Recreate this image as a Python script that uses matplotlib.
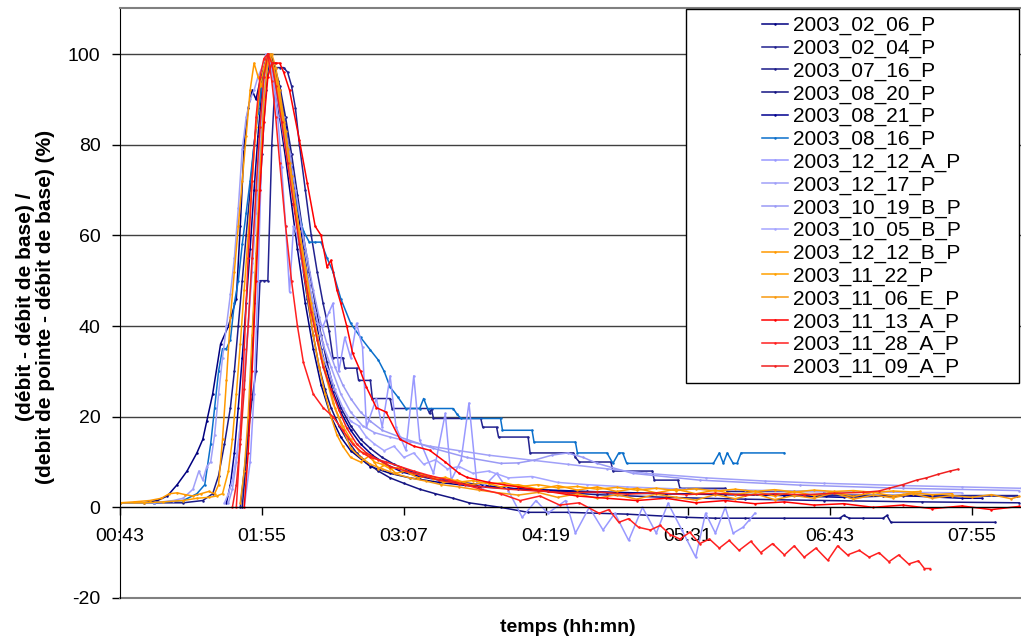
import matplotlib
matplotlib.use("Agg")
import matplotlib.pyplot as plt
from matplotlib.patches import Rectangle

plt.rcParams['font.family'] = ['Liberation Sans', 'DejaVu Sans']
plt.rcParams['axes.unicode_minus'] = False

# time axis labels (hh:mm); series times are in minutes
tick_labels = ["00:43", "01:55", "03:07", "04:19", "05:31", "06:43", "07:55"]

labels = ["2003_02_06_P", "2003_02_04_P", "2003_07_16_P", "2003_08_20_P",
          "2003_08_21_P", "2003_08_16_P", "2003_12_12_A_P", "2003_12_17_P",
          "2003_10_19_B_P", "2003_10_05_B_P", "2003_12_12_B_P", "2003_11_22_P",
          "2003_11_06_E_P", "2003_11_13_A_P", "2003_11_28_A_P", "2003_11_09_A_P"]

colors = ["#000080", "#22228F", "#1A1A88", "#141482", "#000090", "#0A6FCB",
          "#9999FF", "#A0A0F8", "#9A9AF5", "#A5A5FF",
          "#FF9900", "#FFA000", "#F89A10",
          "#FF0000", "#FF2020", "#F02020"]

t_0206 = [43, 55, 62, 67, 72, 77, 82, 85, 87, 90, 94, 98, 102, 104, 106, 108, 110, 112, 114, 116,
          118, 120, 122, 124, 127, 130, 133, 137, 141, 145, 150, 155, 160, 170, 180, 190, 205, 225,
          250, 280, 320, 370, 430, 498]
v_0206 = [1, 1, 1.5, 2.5, 5, 8, 12, 15, 19, 25, 36, 40, 46, 62, 80, 88, 92, 90, 94, 97,
          100, 97, 92, 86, 77, 67, 57, 45, 35, 27, 20, 15.5, 12.5, 9, 7.5, 6.5, 5.5, 4.5,
          4, 3.5, 3, 2.8, 2.6, 2.5]

t_0204 = [104, 106, 108, 110, 112, 114, 116, 118, 120, 122, 124, 126, 128, 130, 132, 134, 137, 140,
          143, 146, 149, 151, 156, 157, 163, 164, 170, 171, 180, 181, 199, 200, 201, 202, 226, 227,
          234, 235, 250, 251, 273, 274, 276, 292, 293, 313, 314, 326, 327, 350, 351, 400, 401, 498]
v_0204 = [0, 8, 16, 24, 30, 50, 50, 50, 80, 97, 97, 97, 96, 93, 88, 80, 70, 60,
          52, 45, 39, 33, 33, 30.7, 30.7, 28, 28, 24, 24, 21.8, 21.8, 20.7, 21.8, 19.6, 19.6, 17.7,
          17.7, 15.5, 15.5, 12, 12, 11, 10, 10, 8, 8, 6, 6, 4.2, 4.2, 3.5, 3.5, 2.6, 2.6]

t_0716 = [43, 60, 75, 85, 90, 93, 96, 99, 101, 103, 105, 107, 109, 111, 113, 115, 117, 119, 121, 124,
          127, 130, 133, 136, 139, 142, 145, 148, 151, 155, 160, 165, 170, 176, 182, 190, 200, 212,
          225, 240, 260, 285, 320, 360, 400, 450, 499]
v_0716 = [1, 1, 1, 1.5, 3, 7, 14, 22, 30, 40, 50, 60, 70, 80, 88, 94, 99, 100, 98, 93,
          86, 78, 69, 60, 52, 45, 38, 32, 27, 22, 18, 15, 13, 11, 9.5, 8, 6.8, 5.8,
          5, 4.2, 3.5, 2.8, 2.2, 1.8, 1.5, 1.2, 1]

t_0820 = [105, 107, 109, 111, 113, 115, 117, 119, 121, 123, 126, 129, 132, 135, 138, 141, 144, 147,
          150, 154, 158, 163, 168, 174, 180, 187, 195, 203, 212, 220, 228, 236, 250, 270, 300, 330,
          345, 360, 380, 408, 410, 413, 420, 430, 432, 434, 487]
v_0820 = [0, 10, 25, 45, 62, 78, 92, 100, 98, 94, 86, 76, 65, 55, 46, 38, 31, 26,
          22, 18, 15, 12, 10, 8, 6.5, 5.3, 4, 3, 2, 1, 0.5, 0, -1.1, -1.1, -1.5, -2.2,
          -2.4, -2.4, -2.4, -2.4, -1.8, -2.4, -2.4, -2.4, -1.8, -3.3, -3.3]

t_0821 = [97, 99, 101, 103, 105, 107, 109, 111, 113, 115, 117, 119, 121, 124, 127, 130, 133, 136,
          139, 142, 145, 148, 151, 155, 160, 165, 171, 178, 186, 195, 205, 216, 230, 245, 265, 290,
          320, 350, 380, 410, 440, 470, 480]
v_0821 = [1, 5, 12, 22, 33, 45, 57, 70, 82, 92, 98, 100, 98, 92, 84, 75, 66, 57,
          49, 42, 35, 30, 25.5, 21, 17, 14, 11.5, 9.5, 7.8, 6.8, 6, 5.3, 4.6, 4, 3.6, 3.2,
          3, 2.8, 2.6, 2.2, 2.6, 2, 2]

t_0816 = [43, 60, 75, 82, 86, 89, 91, 93, 95, 97, 99, 101, 103, 105, 107, 109, 111, 113, 115, 117,
          119, 121, 124, 127, 130, 133, 136, 139, 142, 145, 148, 151, 155, 160, 165, 170, 174, 177,
          180, 184, 188, 195, 197, 199, 212, 214, 216, 236, 237, 252, 253, 274, 275, 290, 293, 296,
          298, 300, 344, 347, 349, 351, 354, 356, 358, 380]
v_0816 = [1, 1, 1.5, 3, 5, 14, 22, 30, 35, 35, 37, 45, 50, 58, 65, 72, 80, 87, 93, 97,
          100, 96, 88, 80, 72, 66, 61, 58.5, 58.5, 58.5, 55, 52, 46, 40.6, 37.5, 34.7, 32.5, 30,
          26.5, 24.3, 21.8, 21.8, 24, 21.8, 21.8, 20.5, 19.6, 19.6, 17, 17, 14.4, 14.4, 12, 12, 9.7, 12,
          12, 9.7, 9.7, 12, 9.7, 12, 9.7, 9.7, 12, 12]

t_1212a = [106, 109, 111, 113, 115, 117, 119, 121, 123, 125, 127, 129, 131, 133, 136, 139, 141, 146,
           149, 151, 154, 157, 160, 163, 166, 168, 173, 176, 180, 183, 188, 192, 195, 202, 208, 211,
           216, 220, 224, 227, 234, 240, 247, 254, 260, 269, 274, 281, 288, 294, 301, 308, 315, 321,
           328, 335, 340, 345, 350, 354, 359, 362, 365]
v_1212a = [0, 10, 25, 50, 80, 95, 100, 93, 86, 75, 62, 47.5, 62, 60, 52, 50, 41, 40,
           43, 45, 30, 37.5, 33, 40.6, 35.3, 17.7, 24, 17.7, 29, 17.7, 12.6, 29, 14.8, 7.5, 20.7, 6,
           10.4, 23, 5.3, 4.4, 7.5, 3.7, -2.2, 1.5, -1.3, 1.5, -5.7, 0, -5, -1.3, -7.3, 0, -5.7, 0.9,
           -5, -11, -1.3, -5.7, 0, -5.7, -4.4, -2.9, -1.3]

t_1217 = [43, 60, 70, 75, 80, 83, 85, 87, 89, 91, 93, 95, 97, 99, 101, 103, 105, 107, 109, 111,
          113, 115, 117, 119, 121, 124, 127, 130, 134, 138, 142, 146, 150, 155, 160, 166, 172, 180,
          190, 200, 215, 230, 250, 270, 290, 310, 340, 370, 400, 440, 470, 500]
v_1217 = [1, 1, 1.5, 2, 4, 8, 6, 9, 10, 16, 25, 33, 40, 47, 55, 66, 79, 86, 90, 92,
          95, 97, 100, 98, 94, 87, 79, 71, 61, 51, 43, 36, 31, 25, 21, 18, 16.5, 15.5,
          14.5, 13.5, 12.5, 11.5, 10.5, 9.5, 8.5, 7.5, 6.5, 5.8, 5.3, 4.8, 4.5, 4.2]

t_1019b = [98, 100, 102, 104, 106, 108, 110, 112, 114, 116, 118, 120, 123, 126, 129, 132, 135, 138,
           141, 144, 148, 152, 156, 160, 165, 170, 176, 185, 202, 219, 236, 245, 253, 262, 270, 278,
           285, 303, 337, 388, 440, 499]
v_1019b = [1, 4, 10, 18, 28, 40, 52, 65, 78, 90, 100, 98, 93, 86, 78, 70, 62, 55,
           48, 42, 36, 31, 27, 24, 21, 19, 17, 15.5, 13, 11, 9.7, 9.8, 10.4, 11.5, 12, 11,
           9.7, 7.5, 6, 4.9, 4.2, 3.7]

t_1005b = [96, 98, 100, 102, 104, 106, 108, 110, 112, 114, 116, 118, 120, 122, 125, 128, 131, 134,
           137, 140, 143, 146, 149, 152, 156, 160, 164, 168, 172, 177, 182, 187, 192, 197, 203, 209,
           215, 222, 230, 240, 252, 265, 280, 300, 330, 360, 400, 440, 470]
v_1005b = [1, 3, 6, 11, 18, 28, 40, 54, 68, 82, 94, 100, 98, 94, 86, 77, 68, 60,
           52, 46, 38, 33, 30, 26, 22, 19, 18, 15.5, 14, 12.5, 13.5, 11, 12, 9.5, 10.5, 8.5,
           9, 7.5, 8, 6.5, 6.8, 5.5, 5, 4.5, 4, 3.8, 3.5, 3.3, 3.2]

t_1212b = [43, 50, 58, 64, 68, 72, 76, 80, 84, 88, 91, 93, 95, 97, 99, 101, 103, 105, 107, 109,
           111, 113, 115, 117, 119, 121, 123, 126, 129, 132, 135, 138, 141, 144, 147, 150, 153, 156,
           160, 165, 170, 174, 178, 183, 188, 194, 200, 207, 214, 221, 228, 236, 245, 255, 265, 275,
           285, 295, 305, 315, 325, 335, 345, 355, 365, 375, 385, 395, 405, 415, 425, 435, 445, 455,
           465]
v_1212b = [1, 1.2, 1.5, 2, 3, 3.2, 2.8, 2.5, 3, 3.5, 3, 5, 15, 28, 42, 52, 62, 72, 82, 92,
           98, 95, 93, 97, 100, 97, 93, 85, 76, 66, 56, 47, 38, 31, 25, 20, 16, 13.5,
           11, 10, 11.5, 8.5, 9.5, 7.5, 8, 6.5, 7, 5.5, 6, 5, 5.5, 4.5, 5, 4, 4.8, 3.8,
           4.5, 3.5, 4.2, 3.2, 4, 3, 3.8, 2.8, 3.5, 2.5, 3.5, 2.6, 3.4, 2.4, 3.3, 2.5, 3.2, 2.8,
           3]

t_1122 = [43, 55, 65, 75, 82, 88, 92, 95, 98, 100, 102, 104, 106, 108, 110, 112, 114, 116, 118, 120,
          122, 125, 128, 131, 134, 137, 140, 143, 146, 149, 152, 156, 160, 164, 168, 172, 176, 180,
          185, 190, 196, 202, 208, 215, 222, 230, 238, 246, 255, 265, 275, 285, 295, 305, 315, 325,
          335, 345, 355, 365, 375, 385, 395, 405, 415, 425, 435, 445, 449]
v_1122 = [1, 1, 1.2, 1.5, 2, 2.2, 2.5, 3, 8, 15, 25, 36, 48, 60, 72, 84, 93, 97, 100, 98,
          94, 87, 79, 70, 61, 53, 45, 38, 32, 27, 22, 18, 15, 12.5, 11.8, 10, 9.5, 8.5,
          8.8, 7.5, 7.2, 6.3, 6.6, 5.6, 5.9, 5.2, 5.4, 4.6, 5, 4.3, 4.6, 4, 4.4, 3.8, 4.2, 3.7,
          4.1, 3.6, 4, 3.5, 3.9, 3.4, 3.8, 3.5, 3.7, 3.3, 3.6, 3.4, 3.5]

t_1106e = [104, 106, 108, 110, 112, 114, 116, 118, 120, 122, 124, 127, 130, 133, 136, 139, 142, 145,
           148, 151, 155, 160, 165, 170, 176, 182, 190, 198, 206, 215, 225, 235, 245, 255, 265, 275,
           285, 295, 305, 315, 325, 335, 345, 355, 365, 375, 385, 395, 405, 415, 425, 435, 445, 455,
           465, 475, 485, 495, 499]
v_1106e = [1, 8, 20, 38, 56, 74, 90, 98, 100, 97, 92, 83, 73, 63, 54, 46, 39, 33,
           28, 23, 18.5, 13, 11, 9.5, 8.5, 7.5, 6.5, 5.8, 5, 4.5, 3.8, 3.2, 2.7, 3.3, 2.2, 3,
           2, 2.8, 1.8, 2.9, 2.2, 1.6, 2.8, 1.9, 3, 1.7, 2.6, 2, 3.2, 1.8, 2.7, 2.1, 3, 2,
           2.6, 2.2, 2.8, 1.9, 2.4]

t_1113a = [106, 108, 110, 112, 114, 116, 118, 120, 122, 124, 126, 129, 134, 138, 142, 145, 148, 150,
           153, 155, 158, 161, 165, 168, 173, 178, 185, 192, 200, 208, 215, 219, 230, 245, 260, 275,
           290, 305, 320, 335, 350, 365, 380, 395, 410, 425, 440, 455, 470, 485, 499]
v_1113a = [0, 12, 30, 50, 70, 85, 95, 98, 98, 98, 96, 92, 81, 71.5, 62, 60, 53, 54.5,
           48, 45, 40, 34, 30, 26.5, 22, 21, 15, 13.5, 12.6, 10, 7.5, 6.6, 5.5, 4.5, 3.5, 2.5,
           2, 1.5, 2, 1, 1.5, 0.8, 1.2, 0.5, 0.8, 0, 0.5, -0.3, 0.3, -0.5, 0.2]

t_1128a = [102, 104, 106, 108, 110, 112, 114, 116, 118, 120, 122, 124, 127, 130, 133, 136, 141, 146,
           151, 156, 161, 166, 170, 178, 185, 192, 200, 210, 218, 226, 236, 246, 256, 266, 276, 286,
           291, 296, 301, 306, 312, 317, 322, 327, 332, 337, 342, 347, 352, 357, 363, 368, 374, 380,
           385, 390, 396, 402, 407, 412, 418, 423, 428, 433, 438, 443, 448, 451, 454]
v_1128a = [0, 15, 35, 55, 72, 86, 95, 99, 100, 94, 86, 76, 62, 50, 40, 32, 25, 22,
           20, 17, 14, 12, 11, 10, 9, 8, 7, 6, 5, 4, 3, 1.5, 2.5, 0.5, 1, -1.3,
           -0.5, -3.3, -2.5, -4.4, -5, -4, -6, -7, -5.5, -8, -7, -9, -7.3, -9.5, -7.5, -10, -8, -10.5,
           -8.5, -11, -9, -11.7, -8.5, -10.5, -9.5, -11, -10, -12, -10.5, -12.5, -11.8, -13.5, -13.5]

t_1109a = [100, 102, 104, 106, 108, 110, 112, 114, 116, 118, 120, 122, 125, 128, 131, 134, 137, 140,
           143, 146, 150, 154, 158, 163, 168, 174, 180, 188, 196, 205, 215, 225, 240, 255, 270, 285,
           300, 315, 330, 345, 360, 375, 390, 405, 420, 428, 433, 440, 447, 452, 458, 464, 468]
v_1109a = [0, 5, 14, 26, 40, 55, 70, 84, 95, 100, 98, 93, 85, 76, 67, 58, 50, 43,
           37, 31, 26, 21.5, 17.5, 14, 12, 10.5, 9, 8, 7, 6, 5.2, 4.6, 4, 3.6, 3.2, 3.4,
           2.9, 3.2, 2.8, 3.1, 2.7, 3, 2.8, 3.1, 3.3, 3.6, 4.2, 5, 6, 6.5, 7.3, 8, 8.4]

times = [t_0206, t_0204, t_0716, t_0820, t_0821, t_0816, t_1212a, t_1217,
         t_1019b, t_1005b, t_1212b, t_1122, t_1106e, t_1113a, t_1128a, t_1109a]
values = [v_0206, v_0204, v_0716, v_0820, v_0821, v_0816, v_1212a, v_1217,
          v_1019b, v_1005b, v_1212b, v_1122, v_1106e, v_1113a, v_1128a, v_1109a]

W, H = 1021, 643
fig = plt.figure(figsize=(W / 100, H / 100), dpi=100)
ax = fig.add_axes([120 / W, 45 / H, 901 / W, 590 / H])

for t, v, c, lab in zip(times, values, colors, labels):
    ax.plot(t, v, color=c, lw=1.1, marker='o', ms=1.8, mew=0, label=lab)

tick_minutes = [int(s[:2]) * 60 + int(s[3:]) for s in tick_labels]
ax.set_xlim(43, 500)
ax.set_ylim(-20, 110.15)
ax.set_xticks(tick_minutes)
ax.set_xticklabels(tick_labels)
ax.set_yticks(range(-20, 101, 20))

ax.yaxis.grid(True, color='#404040', lw=1)
ax.set_axisbelow(True)
ax.spines['bottom'].set_position(('data', 0))
ax.spines['right'].set_visible(False)
ax.spines['top'].set_color('#808080')
ax.spines['top'].set_linewidth(1.5)
ax.axhline(-20, color='#808080', lw=1.5, clip_on=False, zorder=1)
ax.tick_params(axis='both', labelsize=14, direction='out', length=6, width=1)
ax.tick_params(axis='x', pad=9)
ax.tick_params(axis='y', pad=8)

fig.text(35.5 / W, 1 - 307 / H, "(débit - débit de base) /\n(debit de pointe - débit de base) (%)",
         rotation=90, ha='center', va='center', fontsize=15, fontweight='bold', linespacing=1.1)
fig.text(568 / W, 1 - 628 / H, "temps (hh:mn)", ha='center', va='center',
         fontsize=14, fontweight='bold')

# legend box drawn separately so it keeps the wide left margin
box = Rectangle((686 / W, 1 - 383 / H), (1019 - 686) / W, (383 - 9) / H,
                transform=fig.transFigure, facecolor='white', edgecolor='black',
                lw=1, zorder=4)
fig.add_artist(box)
fig.legend(loc='upper left', bbox_to_anchor=(762 / W, 1 - 16 / H), frameon=False,
           fontsize=15, handlelength=1.25, handletextpad=0.25, borderpad=0,
           borderaxespad=0, labelspacing=0.17)

fig.savefig("out.png", dpi=100)
